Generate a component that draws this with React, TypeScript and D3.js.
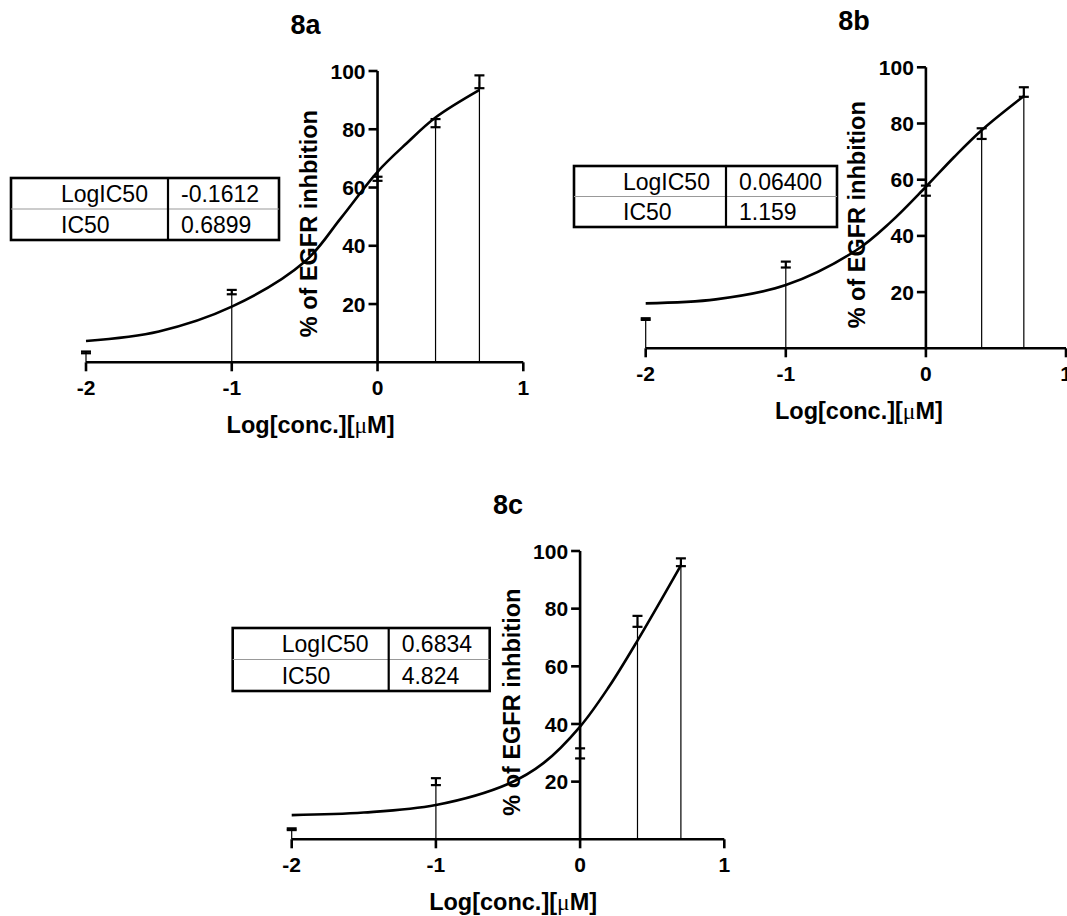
import React from 'react';
import * as d3 from 'd3';

// ---------- data ----------
const xTickValues = [-2, -1, 0, 1];
const yTickValues = [20, 40, 60, 80, 100];
const concLog = [-2, -1, 0, 0.398, 0.699];

const mean8a = [3.4, 24.1, 63.0, 82.1, 96.3];
const err8a = [0.3, 0.75, 0.7, 1.4, 2.2];
const mean8b = [10.4, 29.8, 56.1, 76.4, 91.2];
const err8b = [0.3, 1.05, 1.8, 1.9, 1.7];
const mean8c = [3.5, 20.0, 29.8, 75.6, 96.1];
const err8c = [0.3, 1.2, 1.75, 1.9, 1.35];

const curveX = [-2, -1.5, -1, -0.5, -0.25, 0, 0.2, 0.4, 0.7];
const fit8a = [7.3, 10.6, 19.1, 34.5, 49.6, 65.4, 75.2, 84.1, 93.5];
const fit8b = [16.0, 17.4, 22.5, 34.8, 45.0, 57.5, 68.0, 77.7, 89.8];
const fit8c = [8.4, 9.3, 11.9, 19.2, 26.6, 39.1, 52.9, 69.1, 95.1];

const panelNames = ['8a', '8b', '8c'];
const logIC50Values = ['-0.1612', '0.06400', '0.6834'];
const ic50Values = ['0.6899', '1.159', '4.824'];
const tableRowLabels = ['LogIC50', 'IC50'];
const xAxisTitle = 'Log[conc.][';
const yAxisTitle = '% of EGFR inhbition';

// ---------- layout ----------
const layouts = [
  { xl: 86, xr: 523.3, yt: 71, yb: 362.3, tb: { x: 11, y: 178, w: 268, h: 62, d: 157, pad: 50 } },
  { xl: 645.7, xr: 1066, yt: 67.3, yb: 348.3, tb: { x: 574, y: 166, w: 263, h: 61, d: 152, pad: 49 } },
  { xl: 291.7, xr: 724.3, yt: 551, yb: 839.3, tb: { x: 232.7, y: 628, w: 257, h: 63, d: 156, pad: 49 } },
];

const means = [mean8a, mean8b, mean8c];
const errs = [err8a, err8b, err8c];
const fits = [fit8a, fit8b, fit8c];

const FONT = "'Liberation Sans', Arial, Helvetica, sans-serif";

function Panel({ idx }: { idx: number }) {
  const L = layouts[idx];
  const x = d3.scaleLinear().domain([-2, 1]).range([L.xl, L.xr]);
  const y = d3.scaleLinear().domain([0, 100]).range([L.yb, L.yt]);
  const x0 = x(0);
  const line = d3
    .line<number>()
    .x((_, i) => x(curveX[i]))
    .y((v) => y(v))
    .curve(d3.curveCatmullRom.alpha(0.5));
  const m = means[idx];
  const e = errs[idx];
  const t = L.tb;
  const capW = 5;
  return (
    <g>
      {/* title */}
      <text x={x0 - 72} y={L.yt - 37} textAnchor="middle" fontFamily={FONT} fontWeight="bold" fontSize={27}>
        {panelNames[idx]}
      </text>
      {/* spikes */}
      {concLog.map((c, i) => (
        <line key={'s' + i} x1={x(c)} x2={x(c)} y1={y(0)} y2={y(m[i])} stroke="#000" strokeWidth={1.2} />
      ))}
      {/* error bars */}
      {concLog.map((c, i) => (
        <g key={'e' + i} stroke="#000" strokeWidth={2.2}>
          <line x1={x(c)} x2={x(c)} y1={y(m[i] - e[i])} y2={y(m[i] + e[i])} />
          <line x1={x(c) - capW} x2={x(c) + capW} y1={y(m[i] + e[i])} y2={y(m[i] + e[i])} />
          <line x1={x(c) - capW} x2={x(c) + capW} y1={y(m[i] - e[i])} y2={y(m[i] - e[i])} />
        </g>
      ))}
      {/* fitted curve */}
      <path d={line(fits[idx]) || ''} fill="none" stroke="#000" strokeWidth={2.6} />
      {/* x axis */}
      <line x1={x(-2)} x2={x(1)} y1={y(0)} y2={y(0)} stroke="#000" strokeWidth={2.6} />
      {xTickValues.map((v) => (
        <g key={'xt' + v}>
          <line x1={x(v)} x2={x(v)} y1={y(0)} y2={y(0) + 9} stroke="#000" strokeWidth={2.6} />
          <text x={x(v)} y={y(0) + 33} textAnchor="middle" fontFamily={FONT} fontWeight="bold" fontSize={21}>
            {v}
          </text>
        </g>
      ))}
      {/* y axis */}
      <line x1={x0} x2={x0} y1={y(0) + 1} y2={y(100)} stroke="#000" strokeWidth={2.6} />
      {yTickValues.map((v) => (
        <g key={'yt' + v}>
          <line x1={x0 - 9} x2={x0} y1={y(v)} y2={y(v)} stroke="#000" strokeWidth={2.6} />
          <text x={x0 - 12} y={y(v)} dy="0.36em" textAnchor="end" fontFamily={FONT} fontWeight="bold" fontSize={21}>
            {v}
          </text>
        </g>
      ))}
      {/* axis titles */}
      <text
        transform={`translate(${x0 - 69},${(y(0) + y(100)) / 2 + 7}) rotate(-90)`}
        dy="0.36em"
        textAnchor="middle"
        fontFamily={FONT}
        fontWeight="bold"
        fontSize={23.5}
      >
        {yAxisTitle}
      </text>
      <text x={x0 - 67} y={y(0) + 71} textAnchor="middle" fontFamily={FONT} fontWeight="bold" fontSize={23.5}>
        {xAxisTitle}
        <tspan fontFamily="'Liberation Serif', 'DejaVu Serif', serif" fontWeight="normal">μ</tspan>
        M]
      </text>
      {/* table */}
      <g>
        <rect x={t.x} y={t.y} width={t.w} height={t.h} fill="#fff" stroke="#000" strokeWidth={2.6} />
        <line x1={t.x} x2={t.x + t.w} y1={t.y + t.h / 2} y2={t.y + t.h / 2} stroke="#999" strokeWidth={1} />
        <line x1={t.x + t.d} x2={t.x + t.d} y1={t.y} y2={t.y + t.h} stroke="#000" strokeWidth={2.2} />
        {tableRowLabels.map((lab, r) => (
          <g key={'r' + r}>
            <text x={t.x + t.pad} y={t.y + (r + 0.5) * (t.h / 2)} dy="0.36em" fontFamily={FONT} fontSize={23}>
              {lab}
            </text>
            <text x={t.x + t.d + 13} y={t.y + (r + 0.5) * (t.h / 2)} dy="0.36em" fontFamily={FONT} fontSize={23}>
              {r === 0 ? logIC50Values[idx] : ic50Values[idx]}
            </text>
          </g>
        ))}
      </g>
    </g>
  );
}

export default function App() {
  return (
    <svg
      width={1067}
      height={916}
      style={{ position: 'absolute', left: 0, top: 0, background: '#fff' }}
    >
      <rect x={0} y={0} width={1067} height={916} fill="#fff" />
      {panelNames.map((_, i) => (
        <Panel key={i} idx={i} />
      ))}
    </svg>
  );
}
